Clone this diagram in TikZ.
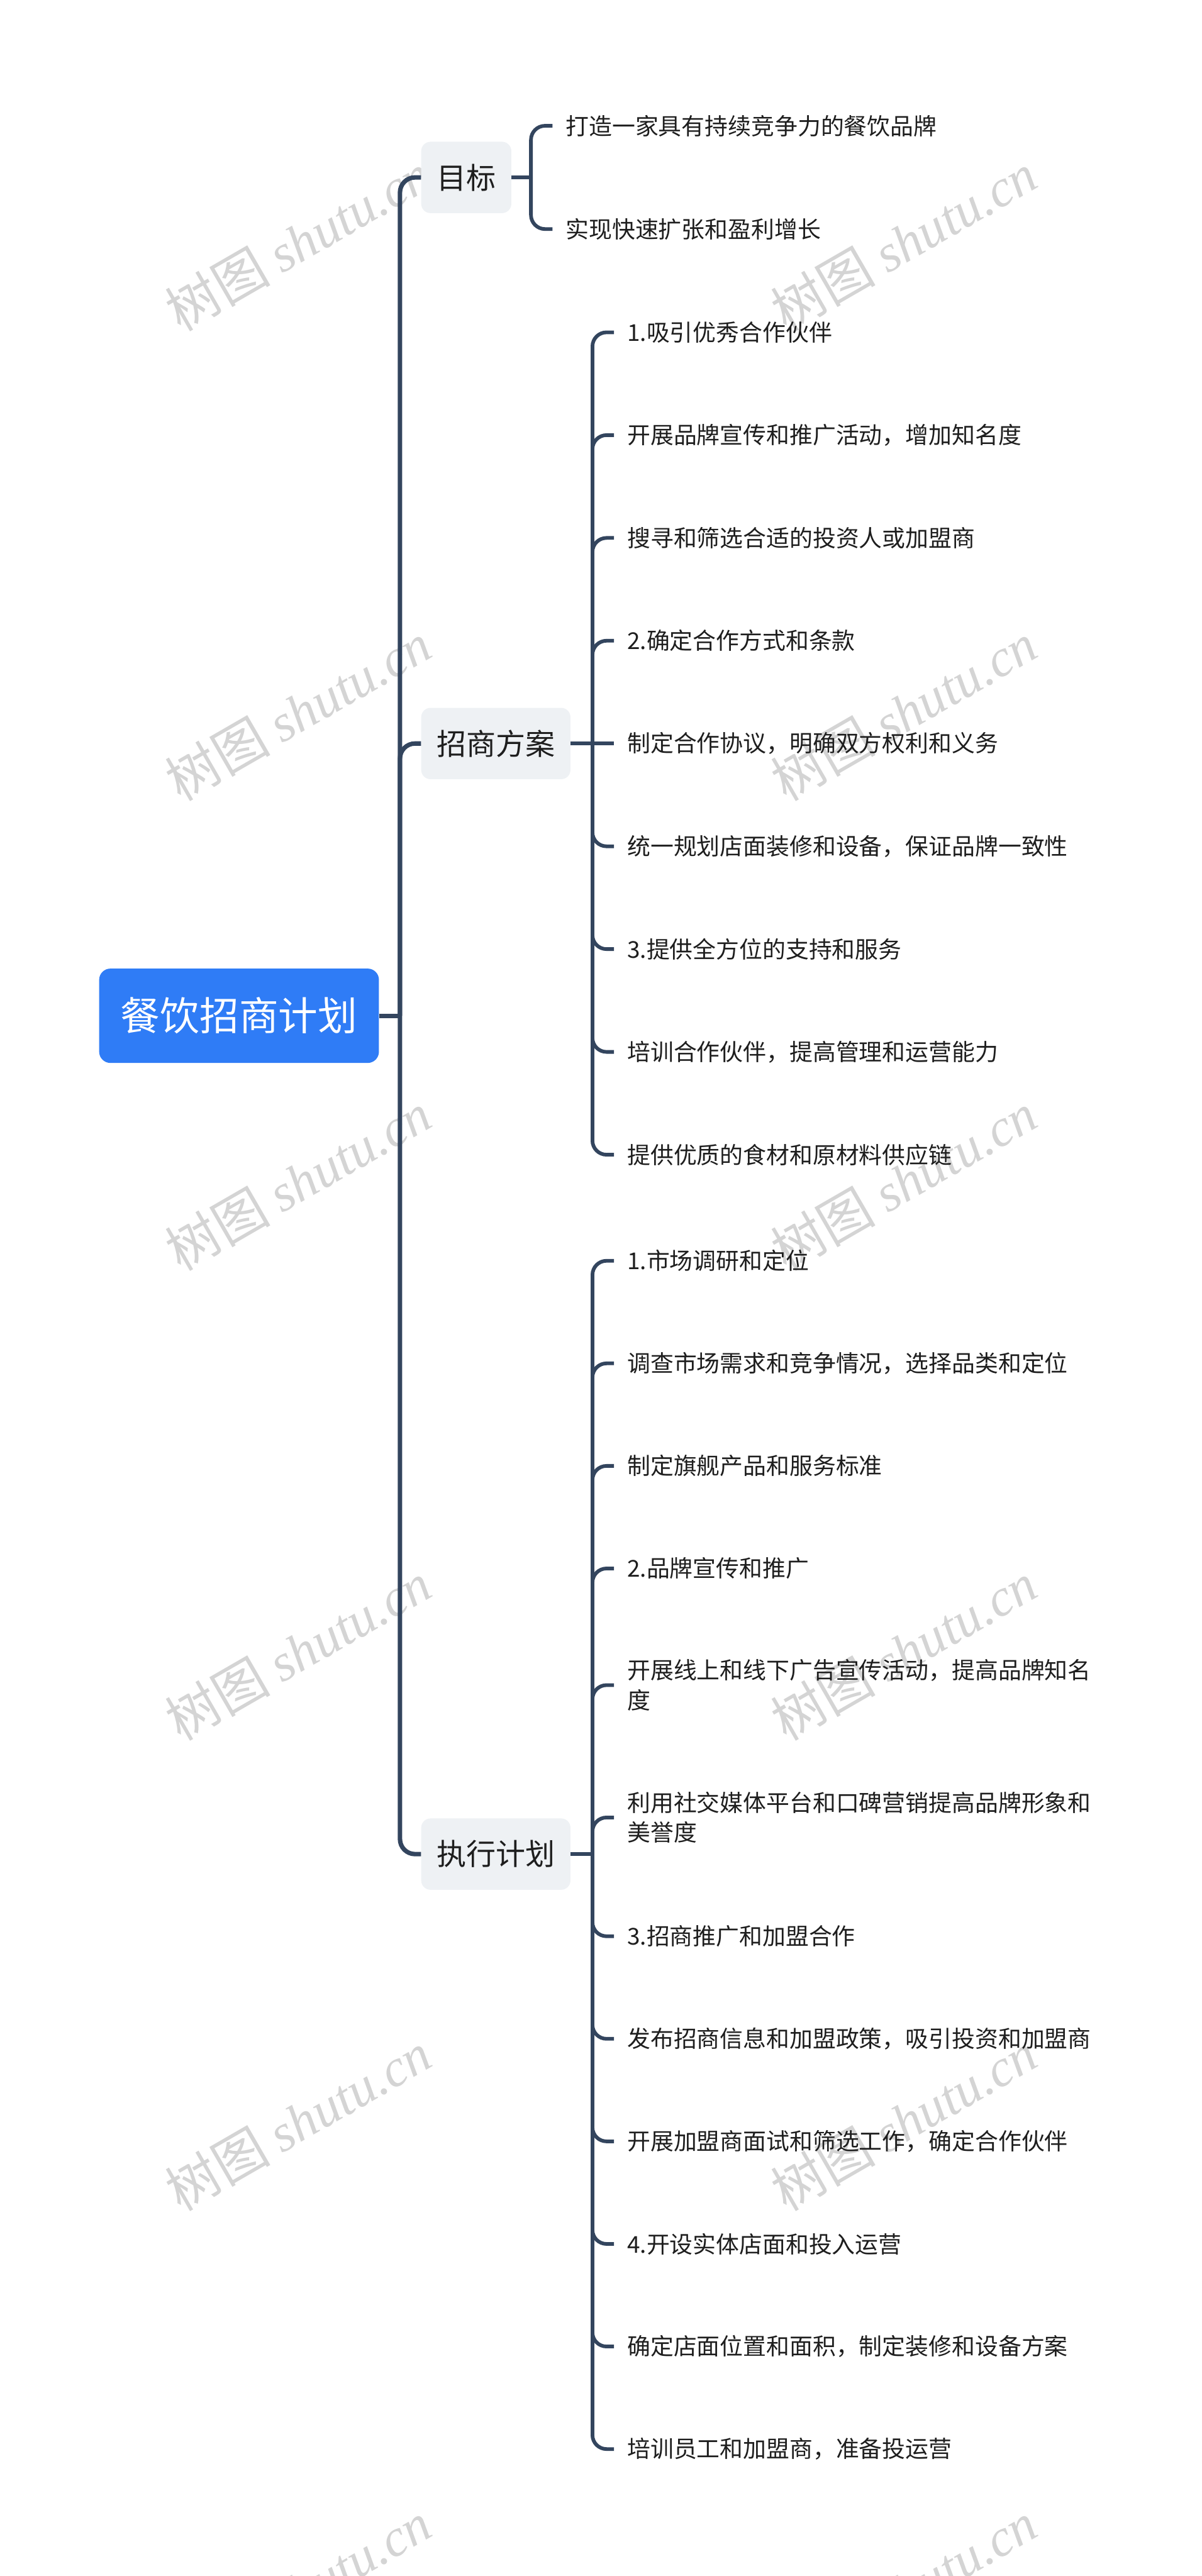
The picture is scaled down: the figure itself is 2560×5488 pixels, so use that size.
\documentclass[tikz,border=0pt]{standalone}
\usepackage{fontspec}
\setmainfont{Noto Sans CJK SC}
\newfontfamily\cjkfont{Noto Sans CJK SC}
\newfontfamily\wmserif{Liberation Serif}
\definecolor{linec}{HTML}{33455E}
\definecolor{rootc}{HTML}{2F7CF6}
\definecolor{lvfill}{HTML}{EEF1F4}
\definecolor{txtc}{HTML}{1E1E1E}
\definecolor{wmc}{HTML}{D4D4D4}
\tikzset{
  rootnode/.style={fill=rootc, rounded corners=24, text=white,
    font=\fontsize{84}{100}\selectfont, inner xsep=46, inner ysep=0,
    minimum height=201, anchor=west},
  lvnode/.style={fill=lvfill, rounded corners=20, text=txtc,
    font=\fontsize{63}{76}\selectfont, inner xsep=33, inner ysep=0,
    minimum height=152, anchor=west},
  leaf/.style={text=txtc, font=\fontsize{49.4}{64}\selectfont,
    inner xsep=28, inner ysep=4, anchor=west, align=left},
  mainconn/.style={draw=linec, line width=9.5, rounded corners=32},
  subconn/.style={draw=linec, line width=7.8, rounded corners=30},
  wm/.style={text=wmc, rotate=30, anchor=center,
    font=\fontsize{112}{120}\selectfont}
}
\begin{document}
\begin{tikzpicture}[x=1pt,y=-1pt]
\useasboundingbox (0,0) rectangle (2560,5488);
\fill[white] (0,0) rectangle (2560,5488);
\clip (0,0) rectangle (2560,5488);
% watermarks
\foreach \k in {0,...,5}{
  \node[wm] (wl\k) at (635,515+1001*\k) {{\cjkfont 树图} {\wmserif\itshape shutu.cn}};
  \node[wm] (wr\k) at (1925,515+1001*\k) {{\cjkfont 树图} {\wmserif\itshape shutu.cn}};
}
% root and level 2
\node[rootnode] (root) at (211,2164) {餐饮招商计划};
\node[lvnode] (g1) at (897,378) {目标};
\node[lvnode] (g2) at (897,1584) {招商方案};
\node[lvnode] (g3) at (897,3950) {执行计划};
\coordinate (jr) at (852,2164);
\draw[mainconn] (root.east) -- (jr);
\draw[mainconn] (jr) |- (g1.west);
\draw[mainconn] (jr) |- (g2.west);
\draw[mainconn] (jr) |- (g3.west);
% 目标 children
\node[leaf] (a1) at (1177,268) {打造一家具有持续竞争力的餐饮品牌};
\node[leaf] (a2) at (1177,488) {实现快速扩张和盈利增长};
\coordinate (ja) at (1131,378);
\draw[subconn] (g1.east) -- (ja);
\draw[subconn] (ja) |- (a1.west);
\draw[subconn] (ja) |- (a2.west);
% 招商方案 children
\node[leaf] (b1) at (1308,708) {1.吸引优秀合作伙伴};
\node[leaf] (b2) at (1308,927) {开展品牌宣传和推广活动，增加知名度};
\node[leaf] (b3) at (1308,1146) {搜寻和筛选合适的投资人或加盟商};
\node[leaf] (b4) at (1308,1365) {2.确定合作方式和条款};
\node[leaf] (b5) at (1308,1584) {制定合作协议，明确双方权利和义务};
\node[leaf] (b6) at (1308,1803) {统一规划店面装修和设备，保证品牌一致性};
\node[leaf] (b7) at (1308,2022) {3.提供全方位的支持和服务};
\node[leaf] (b8) at (1308,2241) {培训合作伙伴，提高管理和运营能力};
\node[leaf] (b9) at (1308,2460) {提供优质的食材和原材料供应链};
\coordinate (jb) at (1262,1584);
\draw[subconn] (g2.east) -- (jb) -- (b5.west);
\foreach \n in {b1,b2,b3,b4,b6,b7,b8,b9}{
  \draw[subconn] (jb) |- (\n.west);
}
% 执行计划 children
\node[leaf] (c1) at (1308,2686) {1.市场调研和定位};
\node[leaf] (c2) at (1308,2904.5) {调查市场需求和竞争情况，选择品类和定位};
\node[leaf] (c3) at (1308,3123) {制定旗舰产品和服务标准};
\node[leaf] (c4) at (1308,3341.5) {2.品牌宣传和推广};
\node[leaf] (c5) at (1308,3590) {开展线上和线下广告宣传活动，提高品牌知名\\度};
\node[leaf] (c6) at (1308,3872) {利用社交媒体平台和口碑营销提高品牌形象和\\美誉度};
\node[leaf] (c7) at (1308,4125) {3.招商推广和加盟合作};
\node[leaf] (c8) at (1308,4343.5) {发布招商信息和加盟政策，吸引投资和加盟商};
\node[leaf] (c9) at (1308,4562) {开展加盟商面试和筛选工作，确定合作伙伴};
\node[leaf] (c10) at (1308,4780.5) {4.开设实体店面和投入运营};
\node[leaf] (c11) at (1308,4999) {确定店面位置和面积，制定装修和设备方案};
\node[leaf] (c12) at (1308,5217.5) {培训员工和加盟商，准备投运营};
\coordinate (jc) at (1262,3950);
\draw[subconn] (g3.east) -- (jc);
\foreach \n in {c1,c2,c3,c4,c5,c6,c7,c8,c9,c10,c11,c12}{
  \draw[subconn] (jc) |- (\n.west);
}
\end{tikzpicture}
\end{document}
